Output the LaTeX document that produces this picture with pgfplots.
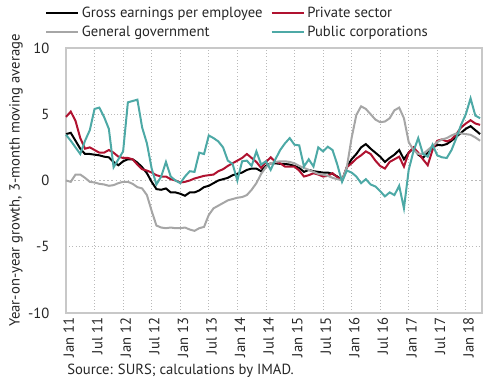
\documentclass[border=0pt]{standalone}
\usepackage{pgfplots}
\pgfplotsset{compat=1.18}
\usepackage{pgfplotstable}
\usepackage{fontspec}
\setmainfont{PT Sans}
\definecolor{cred}{RGB}{176,18,48}
\definecolor{cteal}{RGB}{77,169,166}
\definecolor{cgray}{RGB}{166,166,166}
\definecolor{cframe}{RGB}{200,200,200}
\newcommand{\ff}{\fontsize{11}{13}\selectfont}
\pgfplotstableread{
m gross priv gen pub
0 3.5 4.8 0.0 3.45
1 3.6 5.2 -0.1 3.0
2 3.0 4.5 0.45 2.5
3 2.4 3.2 0.45 2.0
4 2.0 2.4 0.2 3.0
5 2.0 2.5 -0.1 3.8
6 1.95 2.3 -0.15 5.4
7 1.9 2.1 -0.25 5.5
8 1.8 2.1 -0.3 4.8
9 1.75 2.3 -0.4 3.9
10 1.4 2.1 -0.35 1.0
11 1.15 1.8 -0.2 1.6
12 1.45 1.7 -0.1 2.2
13 1.6 1.7 -0.1 5.9
14 1.6 1.6 -0.25 6.0
15 1.35 1.2 -0.5 6.1
16 1.0 0.85 -0.6 4.0
17 0.55 0.75 -1.1 2.8
18 -0.1 0.6 -2.3 0.9
19 -0.65 0.4 -3.4 -0.3
20 -0.7 0.3 -3.55 0.3
21 -0.6 0.3 -3.6 1.4
22 -0.9 0.1 -3.55 0.3
23 -0.9 0.0 -3.6 0.0
24 -1.0 -0.15 -3.6 -0.2
25 -1.15 -0.1 -3.55 0.3
26 -0.9 0.0 -3.7 0.7
27 -0.9 0.15 -3.8 0.65
28 -0.75 0.25 -3.6 2.1
29 -0.5 0.35 -3.5 2.0
30 -0.4 0.4 -2.6 3.4
31 -0.2 0.45 -2.1 3.2
32 0.0 0.7 -1.9 2.95
33 0.1 0.85 -1.7 2.5
34 0.2 1.1 -1.5 1.5
35 0.4 1.3 -1.4 1.25
36 0.5 1.5 -1.3 0.0
37 0.6 1.7 -1.25 1.45
38 0.8 2.0 -1.1 1.5
39 0.9 1.7 -0.7 1.1
40 0.9 1.4 -0.2 2.2
41 0.7 0.95 0.5 1.2
42 1.1 1.4 1.0 1.45
43 1.3 1.75 1.3 0.8
44 1.3 1.4 1.4 1.6
45 1.25 1.3 1.45 2.3
46 1.25 1.05 1.45 2.8
47 1.2 1.05 1.4 3.2
48 1.1 1.05 1.3 2.7
49 0.95 0.75 1.1 2.65
50 0.65 0.3 0.95 1.05
51 0.8 0.4 0.8 1.6
52 0.7 0.55 0.65 1.05
53 0.65 0.45 0.5 2.5
54 0.6 0.3 0.45 2.2
55 0.6 0.35 0.35 2.55
56 0.5 0.55 0.2 2.3
57 0.3 0.25 0.1 1.2
58 0.0 0.0 0.0 -0.1
59 1.0 1.0 1.0 0.75
60 1.6 1.3 3.2 0.6
61 2.0 1.65 4.95 0.3
62 2.5 1.9 5.6 -0.2
63 2.75 2.2 5.4 0.1
64 2.4 2.0 5.0 -0.3
65 2.1 1.5 4.6 -0.45
66 1.8 1.1 4.4 -0.8
67 1.4 0.9 4.45 -1.2
68 1.7 1.4 4.7 -0.9
69 1.95 1.6 5.3 -1.1
70 2.3 1.8 5.5 -0.4
71 1.6 1.05 4.7 -2.1
72 2.1 2.1 2.9 0.8
73 2.45 2.5 2.3 2.2
74 1.95 2.1 2.0 3.2
75 1.7 1.6 2.0 2.0
76 2.1 1.15 2.3 1.8
77 2.45 2.3 2.6 2.7
78 2.7 3.0 2.9 1.9
79 2.65 3.1 3.1 1.75
80 2.75 2.95 3.2 1.7
81 3.0 3.1 3.4 2.3
82 3.3 3.5 3.55 3.2
83 3.6 4.0 3.55 4.2
84 3.9 4.3 3.5 5.0
85 4.1 4.55 3.45 6.2
86 3.8 4.3 3.25 4.9
87 3.5 4.2 3.0 4.7
}\datatable
\begin{document}
\begin{tikzpicture}
\begin{axis}[
  name=main,
  scale only axis,
  width=312pt, height=198.75pt,
  xmin=0, xmax=87.4, ymin=-10, ymax=10,
  xtick={0,6,...,84},
  xticklabels={Jan 11,Jul 11,Jan 12,Jul 12,Jan 13,Jul 13,Jan 14,Jul 14,Jan 15,Jul 15,Jan 16,Jul 16,Jan 17,Jul 17,Jan 18},
  ytick={-10,-5,5,10},
  extra y ticks={0},
  extra y tick style={grid style={solid, color=cframe, line width=1.1pt}},
  grid=major,
  major grid style={dotted, color=gray!55, line width=0.5pt},
  major tick length=0pt,
  axis line style={color=cframe, line width=1.1pt},
  /pgf/number format/assume math mode=true,
  tick label style={font=\ff, color=black!85},
  xticklabel style={rotate=90, anchor=east, yshift=-2pt},
  yticklabel style={xshift=-9pt},
  ylabel={Year-on-year growth, 3-month moving average},
  ylabel style={at={(axis description cs:-0.12,0.5)}, anchor=center, font=\ff, color=black!85},
  clip=false,
  legend columns=2,
  legend cell align=left,
  legend style={draw=none, fill=none, inner sep=0pt, row sep=1pt,
    at={(axis description cs:0,1)}, anchor=south west, xshift=-15.75pt, yshift=5pt,
    font=\ff, text=black!85,
    /tikz/every even column/.append style={column sep=4pt}},
  legend image code/.code={\draw[#1] (0pt,0pt) -- (24pt,0pt);},
]
\addplot[black, line width=1.5pt] table[x=m, y=gross] {\datatable};
\addlegendentry{Gross earnings per employee}
\addplot[cred, line width=1.5pt] table[x=m, y=priv] {\datatable};
\addlegendentry{Private sector}
\addplot[cgray, line width=1.5pt] table[x=m, y=gen] {\datatable};
\addlegendentry{General government}
\addplot[cteal, line width=1.5pt] table[x=m, y=pub] {\datatable};
\addlegendentry{Public corporations}
\node[anchor=base west, inner sep=0pt, font=\ff, text=black!85] at (axis description cs:0,0) [xshift=0.75pt, yshift=-46.5pt] {Source: SURS; calculations by IMAD.};
\end{axis}
\pgfresetboundingbox
\path[use as bounding box] ([xshift=-49.5pt, yshift=-51.75pt]main.south west) rectangle ([xshift=6pt, yshift=36pt]main.north east);
\end{tikzpicture}
\end{document}
